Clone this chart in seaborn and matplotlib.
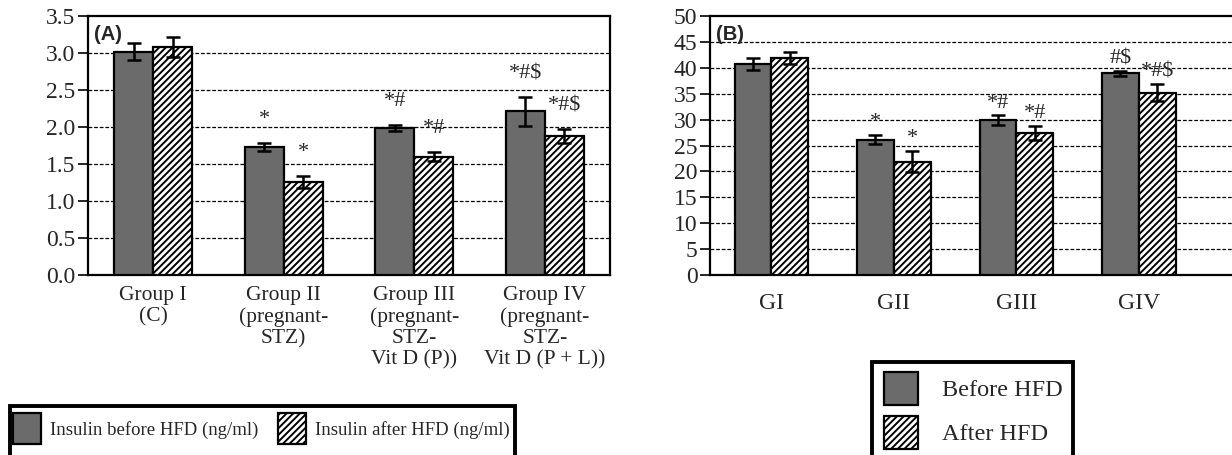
import matplotlib
matplotlib.use("Agg")
import matplotlib.pyplot as plt
import pandas as pd
import seaborn as sns
from matplotlib.patches import Patch, Rectangle

# values
groups_a = ["Group I\n(C)", "Group II\n(pregnant-\nSTZ)", "Group III\n(pregnant-\nSTZ-\nVit D (P))",
            "Group IV\n(pregnant-\nSTZ-\nVit D (P + L))"]
before_a = [3.02, 1.73, 1.99, 2.21]
after_a = [3.08, 1.26, 1.60, 1.88]
err_before_a = [0.11, 0.06, 0.04, 0.19]
err_after_a = [0.13, 0.08, 0.06, 0.09]
marks_before_a = ["", "*", "*#", "*#$"]
marks_after_a = ["", "*", "*#", "*#$"]

groups_b = ["GI", "GII", "GIII", "GIV"]
before_b = [40.7, 26.1, 29.9, 38.9]
after_b = [41.9, 21.9, 27.4, 35.2]
err_before_b = [1.2, 0.9, 0.9, 0.5]
err_after_b = [1.2, 2.1, 1.4, 1.7]
marks_before_b = ["", "*", "*#", "#$"]
marks_after_b = ["", "*", "*#", "*#$"]

GRAY = "#6b6b6b"
SERIF = ["Liberation Serif", "DejaVu Serif"]

sns.set_style("white")
plt.rcParams["font.family"] = SERIF
plt.rcParams["hatch.linewidth"] = 1.4


def panel(ax, groups, before, after, eb, ea, mb, ma, ymax, ystep, fmt, label, off, xsize, xpad):
    df = pd.DataFrame({
        "group": groups * 2,
        "phase": ["before"] * len(groups) + ["after"] * len(groups),
        "value": before + after,
    })
    sns.barplot(data=df, x="group", y="value", hue="phase", ax=ax, width=0.6,
                palette=[GRAY, "white"], edgecolor="black", linewidth=1.6,
                errorbar=None, legend=False, saturation=1, zorder=3)
    for cont, errs, marks, hatch in zip(ax.containers, [eb, ea], [mb, ma], [None, "/////"]):
        xs = [p.get_x() + p.get_width() / 2 for p in cont.patches]
        hs = [p.get_height() for p in cont.patches]
        for p in cont.patches:
            if hatch:
                p.set_hatch(hatch)
        ax.errorbar(xs, hs, yerr=errs, fmt="none", ecolor="black", elinewidth=1.8,
                    capsize=5, capthick=1.8, zorder=4)
        for x, h, e, m in zip(xs, hs, errs, marks):
            if m:
                ax.annotate(m.replace("$", r"\$"), (x, h + e), xytext=(0, off), textcoords="offset points",
                            ha="center", va="bottom", fontsize=16, family=SERIF)
    ax.set_ylim(0, ymax)
    ticks = [i * ystep for i in range(int(round(ymax / ystep)) + 1)]
    ax.set_yticks(ticks)
    ax.set_yticklabels([fmt.format(t) for t in ticks], fontsize=17)
    ax.set_xlim(-0.5, 3.5)
    ax.set_xlabel("")
    ax.set_ylabel("")
    ax.set_xticks(range(len(groups)))
    ax.set_xticklabels(groups, fontsize=xsize, linespacing=1.15)
    ax.set_xticks([-0.5, 0.5, 1.5, 2.5, 3.5], minor=True)
    ax.tick_params(axis="x", which="major", length=0, pad=xpad)
    ax.tick_params(axis="x", which="minor", length=5, width=1.2, direction="out", color="black")
    ax.tick_params(axis="y", length=7, width=1.2, direction="out", color="black", left=True, pad=2)
    for gy in ticks[1:-1]:
        ax.axhline(gy, color="black", linestyle=(0, (3, 1.5)), linewidth=0.9, zorder=1)
    for s in ax.spines.values():
        s.set_color("black")
        s.set_linewidth(1.6)
    ax.text(0.012, 0.965, label, transform=ax.transAxes, fontsize=14.5, fontweight="bold",
            family=["Liberation Sans", "DejaVu Sans"], va="top", ha="left")


W, H = 1232, 455
fig = plt.figure(figsize=(W / 100, H / 100), dpi=100)
ax_a = fig.add_axes([88 / W, 1 - 275 / H, (610 - 88) / W, (275 - 16) / H])
ax_b = fig.add_axes([710 / W, 1 - 275 / H, (W - 710) / W, (275 - 16) / H])

panel(ax_a, groups_a, before_a, after_a, err_before_a, err_after_a,
      marks_before_a, marks_after_a, 3.5, 0.5, "{:.1f}", "(A)", 10, 15.5, 8)
panel(ax_b, groups_b, before_b, after_b, err_before_b, err_after_b,
      marks_before_b, marks_after_b, 50, 5, "{:.0f}", "(B)", 2, 17, 13)
ax_b.set_xlim(-0.5, 3.76)
ax_b.spines["right"].set_visible(False)

h_before = Patch(facecolor=GRAY, edgecolor="black", linewidth=1.6)
h_after = Patch(facecolor="white", edgecolor="black", hatch="/////", linewidth=1.6)

# legend frames run past the bottom edge of the figure, as in the source
for x0, x1, y0 in [(10, 515, 406), (872, 1073, 362)]:
    fig.patches.append(Rectangle((x0 / W, -0.05), (x1 - x0) / W, 1 - y0 / H + 0.05,
                                 transform=fig.transFigure, facecolor="white",
                                 edgecolor="black", linewidth=2.8, zorder=0))

fig.legend([h_before, h_after], ["Insulin before HFD (ng/ml)", "Insulin after HFD (ng/ml)"],
           loc="upper left", bbox_to_anchor=(13 / W, 1 - 413 / H), ncol=2,
           fontsize=13.5, frameon=False, handlelength=1.5, handleheight=2.2,
           columnspacing=1.0, borderpad=0, handletextpad=0.5, borderaxespad=0)

fig.legend([h_before, h_after], ["Before HFD", "After HFD"],
           loc="upper left", bbox_to_anchor=(884 / W, 1 - 372 / H), ncol=1,
           fontsize=17.5, frameon=False, handlelength=1.4, handleheight=1.7,
           borderpad=0, labelspacing=0.45, handletextpad=1.0, borderaxespad=0)

fig.savefig("out.png", dpi=100)
